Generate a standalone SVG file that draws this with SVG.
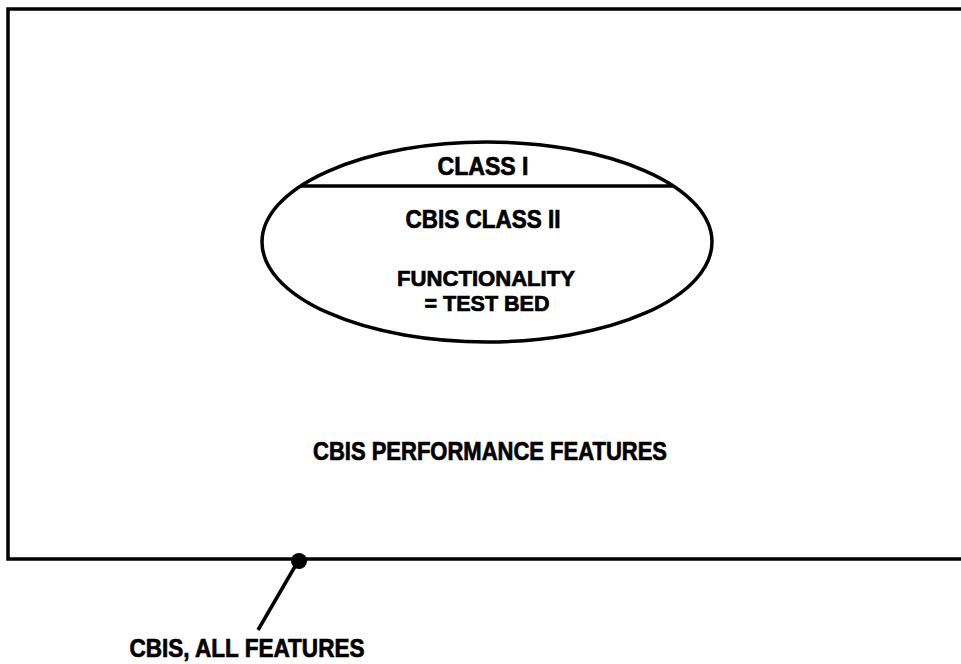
<svg xmlns="http://www.w3.org/2000/svg" width="961" height="664" viewBox="0 0 961 664">
<style>
.t{font-family:"Liberation Sans",Arial,sans-serif;font-weight:bold;font-size:25px;fill:#000;stroke:#000;stroke-width:0.7;text-anchor:middle}
.m{font-size:22px}
.s{fill:none;stroke:#000;stroke-width:3.5}
</style>
<rect width="961" height="664" fill="#fff"/>
<g id="frame">
<path class="s" d="M963,9 L8,9 L8,559 L963,559"/>
<text class="t" x="490" y="460" textLength="354" lengthAdjust="spacingAndGlyphs">CBIS PERFORMANCE FEATURES</text>
</g>
<g id="ellipse">
<ellipse class="s" cx="487" cy="242" rx="225" ry="100"/>
<line class="s" x1="301" y1="186" x2="673" y2="186"/>
<text class="t" x="483" y="175" textLength="91" lengthAdjust="spacingAndGlyphs">CLASS I</text>
<text class="t" x="483" y="228" textLength="155" lengthAdjust="spacingAndGlyphs">CBIS CLASS II</text>
<text class="t m" x="486" y="286" textLength="178" lengthAdjust="spacingAndGlyphs">FUNCTIONALITY</text>
<text class="t m" x="487" y="311" textLength="125" lengthAdjust="spacingAndGlyphs">= TEST BED</text>
</g>
<g id="connectors">
<circle cx="299" cy="561" r="8" fill="#000"/>
<line class="s" x1="297" y1="563" x2="258" y2="630"/>
</g>
<g id="label">
<text class="t" x="247" y="657" textLength="235" lengthAdjust="spacingAndGlyphs">CBIS, ALL FEATURES</text>
</g>
</svg>
